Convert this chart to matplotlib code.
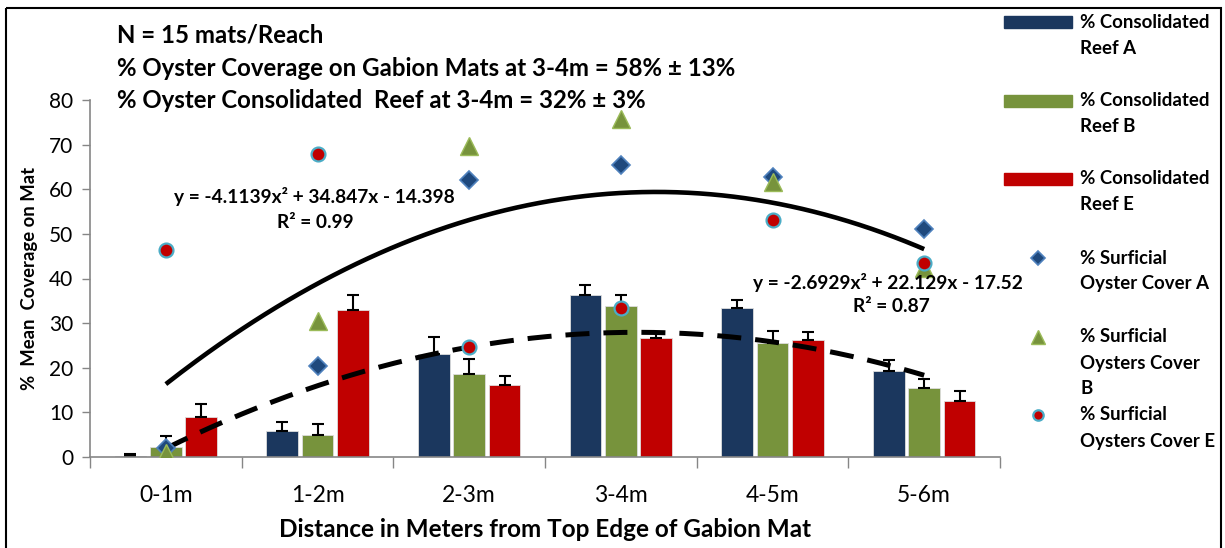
import numpy as np
import matplotlib
matplotlib.use('Agg')
import matplotlib.pyplot as plt
from matplotlib.patches import Rectangle

plt.rcParams['font.family'] = ['Lato', 'DejaVu Sans']

# дані
categories = ['0-1m', '1-2m', '2-3m', '3-4m', '4-5m', '5-6m']

reef_a = [0.3, 5.8, 23.0, 36.2, 33.5, 19.3]
reef_a_err = [0.4, 2.1, 3.9, 2.4, 1.6, 2.4]
reef_b = [2.3, 4.9, 18.5, 33.9, 25.5, 15.5]
reef_b_err = [2.4, 2.4, 3.5, 2.5, 2.8, 2.0]
reef_e = [8.9, 32.9, 16.1, 26.7, 26.2, 12.5]
reef_e_err = [3.0, 3.3, 2.0, 1.0, 1.7, 2.4]

surf_a = [2.0, 20.5, 62.1, 65.4, 62.8, 51.1]
surf_b = [1.0, 30.5, 69.7, 75.7, 61.6, 42.3]
surf_e = [46.4, 68.0, 24.7, 33.3, 53.1, 43.4]

# коефіцієнти ліній тренду (x = 1..6), як підписано на графіку
trend_solid = [-4.1139, 34.847, -14.398]
trend_dashed = [-2.6929, 22.129, -17.52]

legend_labels = [
    ['% Consolidated', 'Reef A'],
    ['% Consolidated', 'Reef B'],
    ['% Consolidated', 'Reef E'],
    ['% Surficial', 'Oyster Cover A'],
    ['% Surficial', 'Oysters Cover', 'B'],
    ['% Surficial', 'Oysters Cover E'],
]

c_blue = '#1B375E'
c_green = '#77933C'
c_red = '#C00000'

fig = plt.figure(figsize=(12.25, 5.48), dpi=100)
ax = fig.add_axes([90 / 1225, 91 / 548, 910 / 1225, 357 / 548])

x = np.arange(len(categories))
w = 0.21
off = 0.233
ekw = dict(ecolor='black', elinewidth=1.5, capthick=1.5)
zeros = np.zeros(len(categories))
ax.bar(x - off, reef_a, w, color=c_blue, edgecolor='#DDDDDD', linewidth=0.6,
       yerr=[zeros, reef_a_err], capsize=4.3, error_kw=ekw, zorder=2)
ax.bar(x, reef_b, w, color=c_green, edgecolor='#DDDDDD', linewidth=0.6,
       yerr=[zeros, reef_b_err], capsize=4.3, error_kw=ekw, zorder=2)
ax.bar(x + off, reef_e, w, color=c_red, edgecolor='#DDDDDD', linewidth=0.6,
       yerr=[zeros, reef_e_err], capsize=4.3, error_kw=ekw, zorder=2)

# лінії тренду
xs = np.linspace(1, 6, 200)
ax.plot(xs - 1, np.polyval(trend_solid, xs), color='black', lw=3.3, zorder=3,
        solid_capstyle='butt')
ax.plot(xs - 1, np.polyval(trend_dashed, xs), color='black', lw=3.6, zorder=3,
        ls=(0, (4.8, 2.8)))

mk_a = dict(marker='D', ms=9, mfc='#1F497D', mec='#4F81BD', mew=1.2, ls='none')
mk_b = dict(marker='^', ms=13, mfc='#77933C', mec='#9BBB59', mew=1.0, ls='none')
mk_e = dict(marker='o', ms=10, mfc='#C00000', mec='#4BACC6', mew=1.6, ls='none')
ax.plot(x, surf_a, zorder=4, **mk_a)
ax.plot(x, surf_b, zorder=4, **mk_b)
ax.plot(x, surf_e, zorder=4, **mk_e)

ax.set_xlim(-0.5, 5.5)
ax.set_ylim(0, 80)
ax.set_yticks(np.arange(0, 81, 10))
ax.set_xticks(x)
ax.set_xticklabels(categories)
ax.set_xticks(np.arange(-0.5, 6, 1), minor=True)
ax.tick_params(axis='x', which='major', length=0, labelsize=16.5, pad=20)
ax.tick_params(axis='x', which='minor', length=8, color='#868686', width=1)
ax.tick_params(axis='y', length=6, color='#868686', width=1, labelsize=15, pad=6)
for s in ['top', 'right']:
    ax.spines[s].set_visible(False)
for s in ['left', 'bottom']:
    ax.spines[s].set_color('#868686')
    ax.spines[s].set_linewidth(1.2)
ax.set_xlabel('Distance in Meters from Top Edge of Gabion Mat', fontsize=17.5,
              fontweight='bold', labelpad=9)
ax.set_ylabel('%  Mean  Coverage on Mat', fontsize=13.3, fontweight='bold', labelpad=8)

# накладка в пікселях: підписи, легенда, рамка
ov = fig.add_axes([0, 0, 1, 1], zorder=5)
ov.set_xlim(0, 1225)
ov.set_ylim(548, 0)
ov.axis('off')
ov.patch.set_alpha(0)

tb = dict(fontsize=17.3, fontweight='bold', va='center', ha='left')
ov.text(117, 35, 'N = 15 mats/Reach', **tb)
ov.text(117, 69, '% Oyster Coverage on Gabion Mats at 3-4m = 58% ± 13%', **tb)
ov.text(117, 101, '% Oyster Consolidated  Reef at 3-4m = 32% ± 3%', **tb)

eb = dict(fontsize=13.8, fontweight='bold', va='center', ha='center')
ov.text(314, 197, 'y = -4.1139x² + 34.847x - 14.398', **eb)
ov.text(315, 222, 'R² = 0.99', **eb)
ov.text(888, 282, 'y = -2.6929x² + 22.129x - 17.52', **eb)
ov.text(891, 307, 'R² = 0.87', **eb)

tops = [22, 101, 179, 258, 337, 415]
bar_cols = [c_blue, c_green, c_red]
mks = [mk_a, mk_b, mk_e]
for i, lines in enumerate(legend_labels):
    y0 = tops[i]
    if i < 3:
        ov.add_patch(Rectangle((1004, y0 - 6), 68, 12, color=bar_cols[i]))
    else:
        m = dict(mks[i - 3])
        m['ms'] = m['ms'] * 0.75
        ov.plot([1038], [y0], **m)
    for j, t in enumerate(lines):
        ov.text(1080, y0 + 26 * j, t, fontsize=13.4, fontweight='bold',
                va='center', ha='left')

ov.add_patch(Rectangle((6, 8), 1215, 600, fill=False, lw=1.5, ec='black'))

fig.savefig('out.png', dpi=100)
